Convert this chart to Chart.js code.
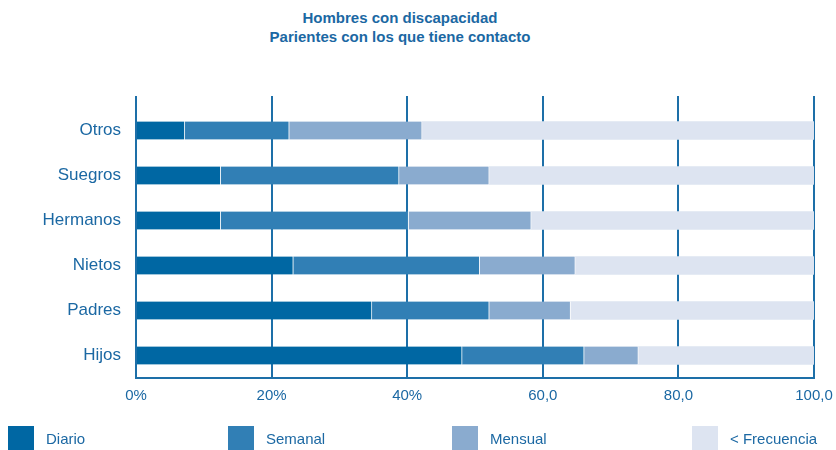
<!DOCTYPE html>
<html lang="es">
<head>
<meta charset="utf-8">
<title>Hombres con discapacidad</title>
<script src="https://cdn.jsdelivr.net/npm/chart.js@4/dist/chart.umd.min.js"></script>
<style>
  html, body { margin: 0; padding: 0; background: #fff; }
  #wrap { position: relative; width: 836px; height: 450px; overflow: hidden; font-family: "Liberation Sans", Arial, Helvetica, sans-serif; color: #1b68a3; }
  #titulo { position: absolute; top: 8px; left: 0; width: 800px; text-align: center; font-weight: bold; font-size: 15px; line-height: 19px; }
  #grafico { position: absolute; top: 0; left: 0; }
  #leyenda { position: absolute; top: 426px; left: 8px; display: grid; grid-template-columns: 220px 224px 240px auto; font-size: 15px; }
  .item { display: flex; align-items: center; height: 24px; }
  .caja { width: 26px; height: 24px; margin-right: 12px; }
</style>
</head>
<body>
<div id="wrap">
  <div id="titulo">Hombres con discapacidad<br>Parientes con los que tiene contacto</div>
  <canvas id="grafico" width="836" height="450"></canvas>
  <div id="leyenda"></div>
</div>
<script>
// parientes, de arriba abajo
const parientes = ['Otros', 'Suegros', 'Hermanos', 'Nietos', 'Padres', 'Hijos'];

// porcentaje segun frecuencia de contacto
const diario     = [7.2, 12.5, 12.5, 23.2, 34.8, 48.1];
const semanal    = [15.4, 26.3, 27.7, 27.5, 17.3, 18.0];
const mensual    = [19.6, 13.3, 18.1, 14.1, 12.0, 8.0];
const menosFrec  = [57.8, 47.9, 41.7, 35.2, 35.9, 25.9];

const etiquetasX = ['0%', '20%', '40%', '60,0', '80,0', '100,0'];

const azulTexto = '#1b68a3';
const azulLinea = '#1d6fa8';
const fuente = { family: '"Liberation Sans", Arial, Helvetica, sans-serif', size: 15 };

function serie(label, data, color, separador) {
  return {
    label: label,
    data: data,
    backgroundColor: color,
    borderColor: 'rgba(255,255,255,0.7)',
    borderWidth: separador ? { top: 0, bottom: 0, left: 0, right: 1 } : 0,
    borderSkipped: false,
    barThickness: 18
  };
}

const ctx = document.getElementById('grafico').getContext('2d');
const chart = new Chart(ctx, {
  type: 'bar',
  data: {
    labels: parientes,
    datasets: [
      serie('Diario', diario, '#0067a3', true),
      serie('Semanal', semanal, '#317fb5', true),
      serie('Mensual', mensual, '#8aabcf', true),
      serie('< Frecuencia', menosFrec, '#dde4f1', false)
    ]
  },
  options: {
    indexAxis: 'y',
    responsive: false,
    animation: false,
    layout: { padding: { top: 96, right: 22, left: 0, bottom: 0 } },
    plugins: {
      legend: { display: false },
      title: { display: false },
      tooltip: { enabled: false }
    },
    scales: {
      x: {
        stacked: true,
        min: 0,
        max: 100,
        z: 1,
        afterFit: s => {
          s.height = 72;
          // el ultimo rotulo puede salirse un poco por la derecha
          s.paddingLeft = 0;
          s.paddingRight = 0;
        },
        ticks: {
          stepSize: 20,
          padding: 9,
          color: azulTexto,
          font: fuente,
          callback: (v, i) => etiquetasX[i]
        },
        grid: { color: azulLinea, lineWidth: 2, drawTicks: false },
        border: { color: azulLinea, width: 2 }
      },
      // solo para que las lineas verticales asomen por encima de la primera barra
      xTop: {
        type: 'linear',
        position: 'top',
        min: 0,
        max: 100,
        ticks: { display: false, stepSize: 20 },
        grid: { drawOnChartArea: false, tickLength: 12, color: azulLinea, lineWidth: 2 },
        border: { display: false }
      },
      y: {
        stacked: true,
        afterFit: s => { s.width = 136; },
        ticks: { padding: 15, color: azulTexto, font: { family: fuente.family, size: 17 } },
        grid: { display: false, drawTicks: false },
        border: { color: azulLinea, width: 2 }
      }
    }
  }
});

// leyenda en html debajo del grafico
const leyenda = document.getElementById('leyenda');
chart.data.datasets.forEach(ds => {
  const item = document.createElement('div');
  item.className = 'item';
  const caja = document.createElement('span');
  caja.className = 'caja';
  caja.style.background = ds.backgroundColor;
  item.appendChild(caja);
  item.appendChild(document.createTextNode(ds.label));
  leyenda.appendChild(item);
});
</script>
</body>
</html>
